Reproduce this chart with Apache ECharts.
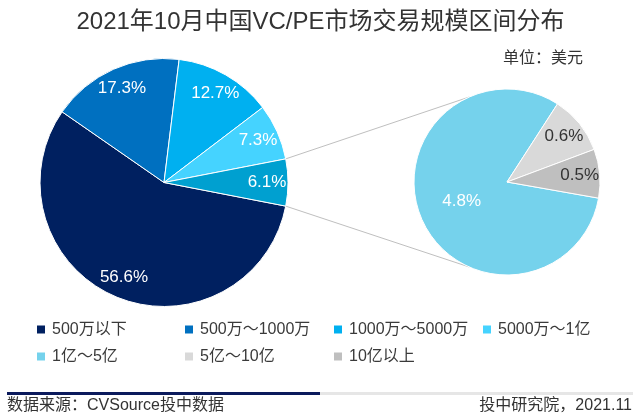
<!DOCTYPE html>
<html>
<head>
<meta charset="utf-8">
<script src="https://cdn.jsdelivr.net/npm/echarts@6/dist/echarts.min.js"></script>
<style>
html,body{margin:0;padding:0;background:#fff;}
#main{width:641px;height:417px;}
</style>
</head>
<body>
<div id="main"></div>
<script>
// ---- data ----
const titleText = '2021年10月中国VC/PE市场交易规模区间分布';
const unitText = '单位：美元';
const sourceText = '数据来源：CVSource投中数据';
const creditText = '投中研究院，2021.11';

const mainCategories = ['500万以下', '500万～1000万', '1000万～5000万', '5000万～1亿'];
const mainValues = [56.6, 17.3, 12.7, 7.3];
const otherCategory = '1亿以上合计';
const otherValue = 6.1;
const detailCategories = ['1亿～5亿', '5亿～10亿', '10亿以上'];
const detailValues = [4.8, 0.6, 0.5];

const mainColors = ['#002060', '#0070C0', '#00B0F0', '#45D3FF'];
const otherColor = '#00A0D0';
const detailColors = ['#75D2EC', '#D9D9D9', '#BFBFBF'];
const detailLabelColors = ['#ffffff', '#333333', '#333333'];

// ---- layout ----
const FONT = "'Liberation Sans', 'Noto Sans CJK SC', sans-serif";
const leftC = [164, 182.5], leftR = 124;
const rightC = [507, 182], rightR = 93;
const rightStart = 350;
const connectorAngle = 114;

const mainTotal = mainValues.reduce((a, b) => a + b, 0) + otherValue;
const halfOther = otherValue / mainTotal * 180;
const leftStart = 360 - halfOther;

const leftData = mainCategories.map((n, i) => ({ name: n, value: mainValues[i], itemStyle: { color: mainColors[i] } }))
  .concat([{ name: otherCategory, value: otherValue, itemStyle: { color: otherColor } }]);
const rightData = detailCategories.map((n, i) => ({
  name: n, value: detailValues[i], itemStyle: { color: detailColors[i] },
  label: { show: i === 0, color: detailLabelColors[i] }
}));
const rightOverlayData = detailCategories.map((n, i) => ({
  name: n, value: detailValues[i],
  label: { show: i !== 0, color: detailLabelColors[i] }
}));

const rad = d => d * Math.PI / 180;
const P1 = [leftC[0] + leftR * Math.cos(rad(halfOther)), leftC[1] - leftR * Math.sin(rad(halfOther))];
const P2 = [leftC[0] + leftR * Math.cos(rad(halfOther)), leftC[1] + leftR * Math.sin(rad(halfOther))];
const Q1 = [rightC[0] + rightR * Math.cos(rad(connectorAngle)), rightC[1] - rightR * Math.sin(rad(connectorAngle))];
const Q2 = [rightC[0] + rightR * Math.cos(rad(connectorAngle)), rightC[1] + rightR * Math.sin(rad(connectorAngle))];

const legendNames = mainCategories.concat(detailCategories);
const legendCols = [37, 185, 334, 483];
const legendRows = [321, 348];
const legends = legendNames.map((n, i) => ({
  data: [n],
  left: legendCols[i % 4],
  top: legendRows[Math.floor(i / 4)],
  orient: 'horizontal',
  padding: 0,
  icon: 'rect',
  itemWidth: 8,
  itemHeight: 8,
  selectedMode: false,
  itemStyle: { borderWidth: 0 },
  textStyle: { fontFamily: FONT, fontSize: 16, color: '#3a3a3a', lineHeight: 17, padding: [0, 0, 0, 2] }
}));

const labelBase = { fontFamily: FONT, fontSize: 17, color: '#fff', formatter: '{c}%', position: 'inside' };

const option = {
  backgroundColor: '#fff',
  animation: false,
  title: [
    { text: titleText, left: 'center', top: 10, padding: 0,
      textStyle: { fontFamily: FONT, fontSize: 24, fontWeight: 'normal', color: '#333' } },
    { text: unitText, right: 58, top: 51, padding: 0,
      textStyle: { fontFamily: FONT, fontSize: 16, fontWeight: 'normal', color: '#333' } },
    { text: sourceText, left: 7, top: 398, padding: 0,
      textStyle: { fontFamily: FONT, fontSize: 16, fontWeight: 'normal', color: '#333' } },
    { text: creditText, right: 9, top: 398, padding: 0,
      textStyle: { fontFamily: FONT, fontSize: 16, fontWeight: 'normal', color: '#333' } }
  ],
  legend: legends,
  graphic: [
    { type: 'line', shape: { x1: P1[0], y1: P1[1], x2: Q1[0], y2: Q1[1] }, style: { stroke: '#BFBFBF', lineWidth: 1 }, z: 1 },
    { type: 'line', shape: { x1: P2[0], y1: P2[1], x2: Q2[0], y2: Q2[1] }, style: { stroke: '#BFBFBF', lineWidth: 1 }, z: 1 },
    { type: 'rect', shape: { x: 7, y: 392, width: 313, height: 3 }, style: { fill: '#0B1A5C' } },
    { type: 'rect', shape: { x: 320, y: 392, width: 313, height: 3 }, style: { fill: '#E6E6E6' } }
  ],
  series: [
    {
      type: 'pie', center: leftC, radius: [0, leftR], startAngle: leftStart, clockwise: true,
      data: leftData, label: { show: false }, labelLine: { show: false },
      itemStyle: { borderColor: '#fff', borderWidth: 1 }, emphasis: { scale: false }, z: 2
    },
    {
      type: 'pie', center: rightC, radius: [0, rightR], startAngle: rightStart, clockwise: true,
      data: rightData, label: labelBase, labelLine: { show: false },
      itemStyle: { borderColor: '#fff', borderWidth: 1 }, emphasis: { scale: false }, z: 2
    },
    {
      type: 'pie', center: leftC, radius: [76, leftR], startAngle: leftStart, clockwise: true,
      data: leftData.map(d => ({ name: d.name, value: d.value })),
      itemStyle: { color: 'rgba(0,0,0,0)', borderWidth: 0 }, silent: true,
      label: labelBase, labelLine: { show: false }, emphasis: { disabled: true }, z: 3
    },
    {
      type: 'pie', center: rightC, radius: [47, rightR], startAngle: rightStart, clockwise: true,
      data: rightOverlayData,
      itemStyle: { color: 'rgba(0,0,0,0)', borderWidth: 0 }, silent: true,
      label: labelBase, labelLine: { show: false }, emphasis: { disabled: true }, z: 3
    }
  ]
};

const chart = echarts.init(document.getElementById('main'), null, { renderer: 'canvas' });
chart.setOption(option);
</script>
</body>
</html>
